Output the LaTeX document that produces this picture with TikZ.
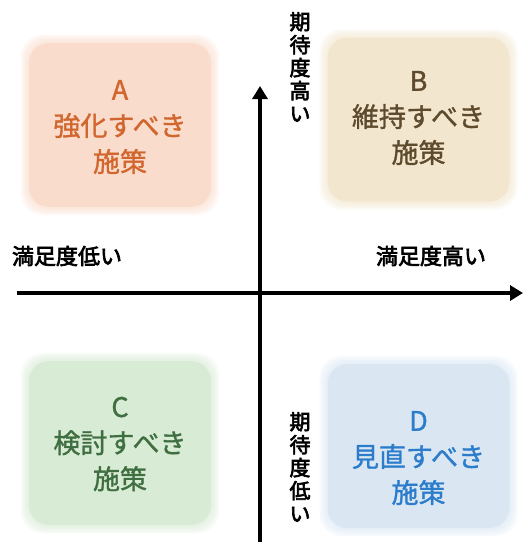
\documentclass[tikz,border=0pt]{standalone}
\usepackage{fontspec}
\usetikzlibrary{arrows.meta}
\newfontfamily\jpm[FakeBold=1.2]{Noto Sans CJK JP}
\newfontfamily\jpl[FakeBold=3]{Noto Sans CJK JP}
\definecolor{afill}{HTML}{F9DCCB}\definecolor{atext}{HTML}{D2662F}
\definecolor{bfill}{HTML}{F2E6CE}\definecolor{btext}{HTML}{5E4B2E}
\definecolor{cfill}{HTML}{D8EBD5}\definecolor{ctext}{HTML}{3F6E40}
\definecolor{dfill}{HTML}{DAE7F3}\definecolor{dtext}{HTML}{2B7CCB}
\tikzset{
  quad/.style={rounded corners=20pt, minimum width=182pt, minimum height=164pt, inner sep=0pt, draw=none, fill=#1},
  halo/.style 2 args={rounded corners=22pt, minimum width=182pt+#2, minimum height=164pt+#2, inner sep=0pt, draw=none, fill=#1, opacity=0.22},
  qtext/.style={text=#1, font=\jpm\fontsize{27}{36}\selectfont, align=center, inner sep=0pt},
  axislabel/.style={font=\jpl\fontsize{22}{22}\selectfont, inner sep=0pt},
  vlabel/.style={font=\jpl\fontsize{21}{23}\selectfont, align=center, inner sep=0pt},
  axis/.style={line width=3.8pt, -{Triangle[length=13pt,width=15pt]}}
}
\newcommand{\softbox}[4]{%
  \foreach \g in {16,12,8,4}{\node[halo={#3}{\g pt}] at (#2) {};}
  \node[quad=#3] (#1) at (#2) {};}
\begin{document}
\begin{tikzpicture}[x=1pt,y=-1pt]
\useasboundingbox (0,0) rectangle (523,542);
% boxes
\softbox{A}{120,125}{afill}{}
\softbox{B}{418.5,119.5}{bfill}{}
\softbox{C}{120,443}{cfill}{}
\softbox{D}{418.5,446}{dfill}{}
% texts
\node[qtext=atext] (At) at (120,127) {A\\強化すべき\\施策};
\node[qtext=btext] (Bt) at (418.5,118) {B\\維持すべき\\施策};
\node[qtext=ctext] (Ct) at (120,444) {C\\検討すべき\\施策};
\node[qtext=dtext] (Dt) at (418.5,458) {D\\見直すべき\\施策};
% axes
\coordinate (hs) at (17,293);
\coordinate (he) at (523,293);
\coordinate (vs) at (260,542);
\coordinate (ve) at (260,86);
\draw[axis] (hs) -- (he);
\draw[axis] (vs) -- (ve);
% labels
\node[axislabel] (lowsat) at (67,256) {満足度低い};
\node[axislabel] (highsat) at (431,256) {満足度高い};
\node[vlabel] (highexp) at (300,67) {期\\待\\度\\高\\い};
\node[vlabel] (lowexp) at (300,467) {期\\待\\度\\低\\い};
\end{tikzpicture}
\end{document}
